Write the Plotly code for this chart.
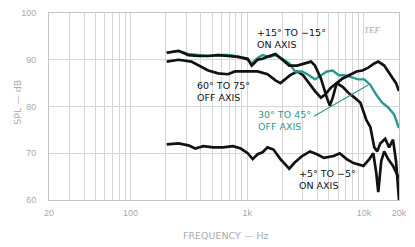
import plotly.graph_objects as go

# ---- data (frequency in Hz, SPL in dB) ----
on15_f = [204, 258, 313, 381, 463, 563, 684, 831, 1010, 1092, 1228, 1354, 1552, 1746, 2004, 2293, 2680, 3133, 3523, 3808, 4282, 4813, 5104, 5408, 5850, 6577, 7394, 8643, 9717, 10920, 12280, 13280, 14930, 17100, 18860, 20000]
on15_db = [91.5, 91.9, 91.0, 90.8, 90.8, 91.0, 90.8, 90.6, 90.2, 88.75, 90.0, 90.2, 90.8, 91.25, 90.0, 88.75, 88.75, 89.2, 89.6, 88.75, 86.0, 81.9, 80.2, 81.9, 85.0, 86.0, 86.7, 87.5, 87.7, 88.3, 89.2, 89.6, 88.75, 86.7, 85.0, 83.3]

off60_f = [204, 258, 332, 381, 463, 563, 684, 784, 1010, 1228, 1493, 1746, 1925, 2120, 2338, 2680, 3013, 3388, 3808, 4282, 4629, 5204, 5850, 6577, 7394, 8311, 9345, 10500, 11360, 12280, 13020, 13810, 15220, 16460, 17780, 18860, 20000]
off60_db = [89.6, 90.0, 89.6, 88.75, 87.7, 87.1, 86.9, 87.5, 87.5, 87.5, 86.9, 85.6, 85.0, 85.8, 86.7, 87.5, 86.7, 85.0, 83.3, 81.9, 82.5, 84.0, 85.0, 84.2, 82.9, 81.9, 80.8, 77.1, 75.6, 71.25, 70.4, 72.1, 73.1, 71.25, 72.9, 68.3, 60.0]

off30_f = [204, 258, 313, 381, 463, 563, 711, 864, 1010, 1092, 1228, 1354, 1552, 1746, 2004, 2293, 2577, 2954, 3388, 3808, 4282, 4813, 5408, 6083, 6839, 7836, 8987, 10102, 11360, 12770, 14360, 16140, 18140, 20000]
off30_db = [91.5, 91.9, 91.25, 91.0, 90.8, 91.0, 91.0, 90.6, 90.0, 89.2, 90.4, 91.0, 90.6, 91.0, 90.2, 89.2, 87.5, 87.5, 86.7, 85.8, 86.7, 87.5, 87.7, 86.7, 86.7, 86.25, 85.8, 85.8, 84.6, 82.5, 80.8, 79.8, 78.3, 75.4]

on5_f = [204, 258, 313, 359, 420, 510, 620, 754, 881, 1010, 1114, 1228, 1354, 1493, 1679, 1925, 2293, 2529, 2954, 3454, 3960, 4540, 5521, 6202, 7112, 8149, 9908, 11140, 12040, 12770, 13280, 14080, 14930, 16140, 17780, 18860, 20000]
on5_db = [71.9, 72.1, 71.7, 71.0, 71.5, 71.25, 71.25, 71.5, 71.0, 70.0, 68.75, 69.8, 70.2, 71.25, 70.8, 68.75, 66.7, 67.9, 69.4, 70.4, 69.8, 69.0, 69.4, 70.0, 68.75, 67.9, 67.3, 68.75, 70.0, 65.8, 61.7, 68.3, 70.4, 68.75, 67.3, 65.8, 64.6]

x_tickvals = [20, 100, 1000, 10000, 20000]
x_ticktext = ["20", "100", "1k", "10k", "20k"]
y_tickvals = [60, 70, 80, 90, 100]
grid_freqs = [30, 40, 50, 60, 70, 80, 90, 200, 300, 400, 500, 600, 700, 800, 900,
              2000, 3000, 4000, 5000, 6000, 7000, 8000, 9000]

BLACK = "#121212"
TEAL = "#2a998c"
GRAY = "#aaaaaa"
GRID = "#d6d6d6"
FONT = "Liberation Sans"
LABEL_FONT = "DejaVu Sans"

fig = go.Figure()
fig.add_trace(go.Scatter(x=off60_f, y=off60_db, mode="lines",
                         line=dict(color=BLACK, width=2.7), hoverinfo="skip"))
fig.add_trace(go.Scatter(x=on5_f, y=on5_db, mode="lines",
                         line=dict(color=BLACK, width=2.7), hoverinfo="skip"))
fig.add_trace(go.Scatter(x=off30_f, y=off30_db, mode="lines",
                         line=dict(color=TEAL, width=2.4), hoverinfo="skip"))
fig.add_trace(go.Scatter(x=on15_f, y=on15_db, mode="lines",
                         line=dict(color=BLACK, width=2.7), hoverinfo="skip"))

fig.update_layout(
    width=415, height=247,
    margin=dict(l=49, r=12, t=8, b=47),
    paper_bgcolor="white", plot_bgcolor="white",
    showlegend=False,
    font=dict(family=FONT, size=9, color=GRAY),
    xaxis=dict(type="log", range=[1.30103, 4.30103],
               tickvals=x_tickvals, ticktext=x_ticktext,
               showgrid=True, gridcolor=GRID, gridwidth=1,
               minor=dict(tickvals=grid_freqs, showgrid=True, gridcolor=GRID, gridwidth=1),
               showline=True, linecolor="#c4c4c4", linewidth=1, mirror=True,
               ticks="", ticklabelstandoff=4,
               tickfont=dict(size=9, color=GRAY), zeroline=False),
    yaxis=dict(range=[60, 100], tickvals=y_tickvals,
               showgrid=True, gridcolor=GRID, gridwidth=1,
               showline=True, linecolor="#c4c4c4", linewidth=1, mirror=True,
               ticks="", ticklabelstandoff=10,
               tickfont=dict(size=9, color=GRAY), zeroline=False),
)

ann = [
    dict(text="+15° TO −15°<br>ON AXIS", x=0.588, y=0.865, color=BLACK),
    dict(text="60° TO 75°<br>OFF AXIS", x=0.418, y=0.578, color=BLACK),
    dict(text="30° TO 45°<br>OFF AXIS", x=0.592, y=0.427, color=TEAL),
    dict(text="+5° TO −5°<br>ON AXIS", x=0.709, y=0.109, color=BLACK),
]
for a in ann:
    fig.add_annotation(text=a["text"], x=a["x"], y=a["y"], xref="paper", yref="paper",
                       xanchor="left", yanchor="middle", align="left", showarrow=False,
                       font=dict(family=LABEL_FONT, size=9.5, color=a["color"]))

fig.add_annotation(text="<i>TEF</i>", x=0.955, y=0.945, xref="paper", yref="paper",
                   showarrow=False, font=dict(family="Liberation Serif", size=9, color=GRAY))
fig.add_annotation(text="FREQUENCY — Hz", x=0.505, y=-0.19, xref="paper", yref="paper",
                   yanchor="middle", showarrow=False, font=dict(family=LABEL_FONT, size=9.5, color=GRAY))
fig.add_annotation(text="SPL — dB", x=-0.11, y=0.52, xref="paper", yref="paper",
                   textangle=-90, showarrow=False, font=dict(family=LABEL_FONT, size=9.5, color=GRAY))

# pointer from teal label to teal curve
fig.add_shape(type="line", xref="paper", yref="paper", x0=0.757, y0=0.448, x1=0.912, y1=0.615,
              line=dict(color=TEAL, width=1.2))

fig.write_html("out.html")
